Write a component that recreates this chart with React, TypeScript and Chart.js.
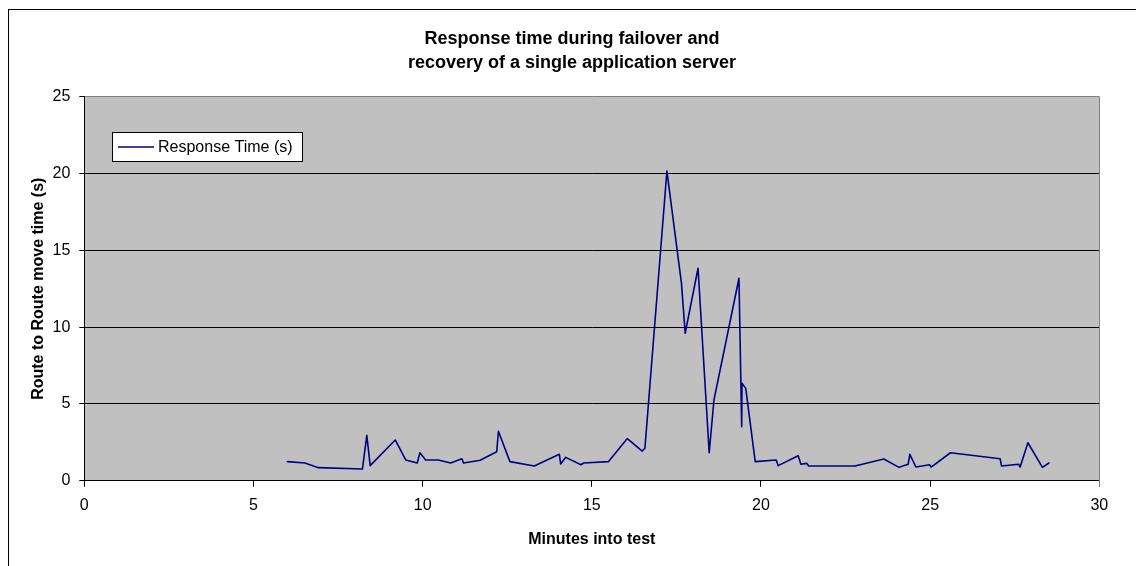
import React, { useEffect, useRef } from "react";
import { Chart, registerables } from "chart.js";

Chart.register(...registerables);

const FONT = "'Liberation Sans', Arial, sans-serif";

const chartTitle = ["Response time during failover and", "recovery of a single application server"];
const seriesLabel = "Response Time (s)";
const xAxisTitle = "Minutes into test";
const yAxisTitle = "Route to Route move time (s)";

const xTicks = [0, 5, 10, 15, 20, 25, 30];
const yTicks = [0, 5, 10, 15, 20, 25];

const minutes = [
  6.0, 6.52, 6.92, 8.22, 8.35, 8.45, 9.19, 9.5, 9.84, 9.92,
  10.09, 10.46, 10.83, 11.16, 11.21, 11.7, 12.19, 12.24, 12.58, 13.3,
  14.04, 14.08, 14.23, 14.68, 14.76, 15.49, 16.05, 16.49, 16.57, 17.22,
  17.65, 17.76, 18.14, 18.47, 18.61, 19.35, 19.43, 19.44, 19.55, 19.83,
  20.45, 20.51, 21.1, 21.18, 21.35, 21.41, 22.78, 23.63, 24.08, 24.35,
  24.4, 24.58, 24.98, 25.03, 25.6, 27.07, 27.11, 27.62, 27.66, 27.89,
  28.32, 28.51,
];

const responseTimes = [
  1.24, 1.15, 0.85, 0.76, 2.95, 0.98, 2.65, 1.35, 1.15, 1.82,
  1.35, 1.35, 1.15, 1.43, 1.15, 1.33, 1.89, 3.22, 1.24, 0.96,
  1.72, 1.09, 1.52, 1.04, 1.15, 1.24, 2.74, 1.93, 2.11, 20.16,
  12.85, 9.6, 13.83, 1.82, 5.25, 13.18, 3.52, 6.34, 6.01, 1.24,
  1.35, 0.98, 1.63, 1.07, 1.13, 0.96, 0.96, 1.41, 0.87, 1.07,
  1.72, 0.89, 1.04, 0.89, 1.82, 1.43, 0.96, 1.07, 0.89, 2.47,
  0.87, 1.15,
];

const decorPlugin = {
  id: "decor",
  beforeDraw(chart: any) {
    const { ctx, chartArea, width, height } = chart;
    ctx.save();
    ctx.fillStyle = "#ffffff";
    ctx.fillRect(0, 0, width, height);
    ctx.fillStyle = "#c0c0c0";
    ctx.fillRect(chartArea.left, chartArea.top, chartArea.right - chartArea.left, chartArea.bottom - chartArea.top);
    // outer frame
    ctx.strokeStyle = "#000000";
    ctx.lineWidth = 1;
    ctx.strokeRect(8.5, 9.5, width + 50, height + 50);
    ctx.restore();
  },
  beforeDatasetsDraw(chart: any) {
    const { ctx, chartArea } = chart;
    ctx.save();
    ctx.strokeStyle = "#808080";
    ctx.lineWidth = 1;
    const x = Math.round(chartArea.right) + 0.5;
    ctx.beginPath();
    ctx.moveTo(x, chartArea.top);
    ctx.lineTo(x, chartArea.bottom + 6);
    ctx.stroke();
    ctx.restore();
  },
  afterDraw(chart: any) {
    const { ctx } = chart;
    const ds = chart.data.datasets[0];
    ctx.save();
    ctx.fillStyle = "#ffffff";
    ctx.fillRect(112, 132, 190, 29);
    ctx.strokeStyle = "#000000";
    ctx.lineWidth = 1;
    ctx.strokeRect(112.5, 132.5, 190, 29);
    ctx.strokeStyle = ds.borderColor;
    ctx.lineWidth = 1.5;
    ctx.beginPath();
    ctx.moveTo(118, 147);
    ctx.lineTo(154, 147);
    ctx.stroke();
    ctx.fillStyle = "#000000";
    ctx.font = `16px ${FONT}`;
    ctx.textBaseline = "middle";
    ctx.textAlign = "left";
    ctx.fillText(ds.label, 158, 147.5);
    ctx.restore();
  },
};

export default function App() {
  const canvasRef = useRef<HTMLCanvasElement | null>(null);

  useEffect(() => {
    document.body.style.margin = "0";
    const canvas = canvasRef.current;
    if (!canvas) return;
    const points = minutes.map((m, i) => ({ x: m, y: responseTimes[i] }));
    const chart = new Chart(canvas, {
      type: "scatter",
      data: {
        datasets: [
          {
            label: seriesLabel,
            data: points,
            showLine: true,
            borderColor: "#000080",
            backgroundColor: "#000080",
            borderWidth: 1.6,
            borderJoinStyle: "round",
            borderCapStyle: "round",
            pointRadius: 0,
            tension: 0,
          },
        ],
      },
      plugins: [decorPlugin],
      options: {
        animation: false,
        responsive: false,
        devicePixelRatio: 1,
        layout: { padding: { left: 8, right: 0, top: 0, bottom: 0 } },
        plugins: {
          legend: { display: false },
          tooltip: { enabled: false },
          title: {
            display: true,
            text: chartTitle,
            color: "#000000",
            font: { family: FONT, size: 18, weight: "bold", lineHeight: 1.35 },
            padding: { top: 26.6, bottom: 21.5 },
          },
        },
        scales: {
          x: {
            type: "linear",
            min: 0,
            max: 30,
            afterBuildTicks: (s: any) => {
              s.ticks = xTicks.map((v) => ({ value: v }));
            },
            afterFit: (s: any) => {
              s.height = 85.3;
            },
            ticks: {
              color: "#000000",
              font: { family: FONT, size: 16 },
              padding: 9.5,
              maxRotation: 0,
            },
            grid: {
              drawOnChartArea: false,
              drawTicks: true,
              tickLength: 6,
              tickColor: "#000000",
            },
            border: { display: true, color: "#000000", width: 1 },
            title: {
              display: true,
              text: xAxisTitle,
              color: "#000000",
              font: { family: FONT, size: 16, weight: "bold" },
              padding: { top: 0, bottom: 16.9 },
            },
          },
          y: {
            type: "linear",
            position: "left",
            min: 0,
            max: 25,
            afterBuildTicks: (s: any) => {
              s.ticks = yTicks.map((v) => ({ value: v }));
            },
            afterFit: (s: any) => {
              s.width = 76.3;
            },
            ticks: {
              color: "#000000",
              font: { family: FONT, size: 16 },
              padding: 9,
            },
            grid: {
              color: (c: any) => (c.tick && c.tick.value === 25 ? "#808080" : "#000000"),
              lineWidth: 1,
              drawTicks: true,
              tickLength: 5,
              tickColor: "#000000",
            },
            border: { display: true, color: "#000000", width: 1 },
            title: {
              display: true,
              text: yAxisTitle,
              color: "#000000",
              font: { family: FONT, size: 16, weight: "bold" },
              padding: { top: 21.4, bottom: 0 },
            },
          },
          yRight: {
            type: "linear",
            position: "right",
            display: true,
            ticks: { display: false },
            grid: { display: false, drawTicks: false },
            border: { display: false },
            afterFit: (s: any) => {
              s.width = 36.7;
            },
          },
        },
      } as any,
    });
    return () => chart.destroy();
  }, []);

  return (
    <div style={{ width: 1136, height: 566, position: "relative" }}>
      <canvas ref={canvasRef} width={1136} height={566} style={{ display: "block" }} />
    </div>
  );
}
